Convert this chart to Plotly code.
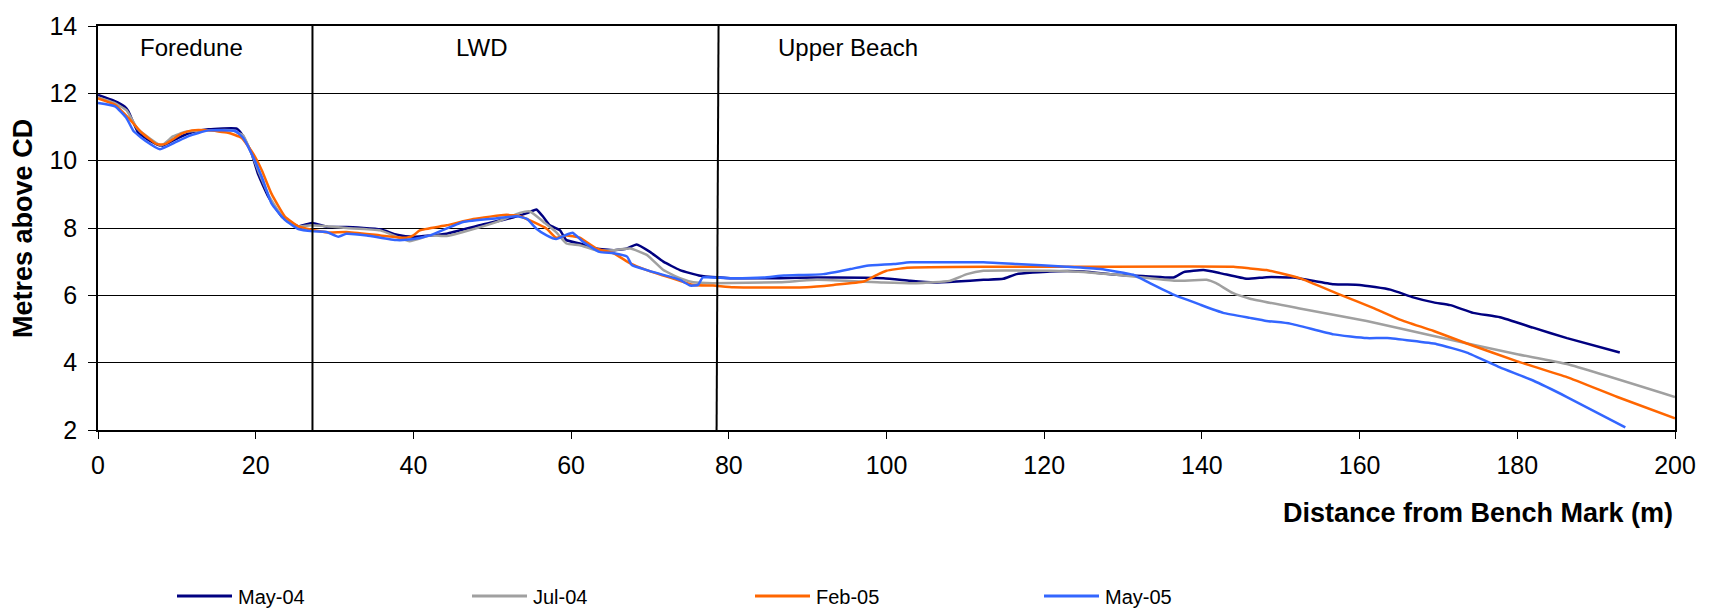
import plotly.graph_objects as go

# ---- data ----
may04_x = [0, 2.0, 3.4, 3.86, 5.1, 6.5, 8.07, 10.2, 12.0, 14.0, 17.6, 18.4, 19.5, 20.3, 21.6, 23.3, 25.4, 27.1, 29.2, 31.5,
           35.8, 37.9, 40.0, 44.2, 48.4, 52.7, 54.4, 55.6, 56.5, 57.3, 58.6, 59.4, 61.1, 63.2, 65.4, 67.1, 68.3, 70.0,
           71.7, 73.8, 76.4, 80.2, 86.5, 91.2, 99.6, 103.0, 106.0, 108.9, 112.3, 114.8, 116.5, 120.7, 125.0, 129.2,
           133.4, 136.4, 137.7, 140.2, 142.3, 145.7, 148.2, 151.6, 156.7, 160.0, 163.9, 166.8, 169.4, 171.5, 174.4,
           177.8, 182.0, 186.3, 193.0]
may04_y = [11.95, 11.78, 11.6, 11.46, 10.83, 10.6, 10.44, 10.68, 10.85, 10.93, 10.95, 10.73, 10.2, 9.6, 8.93, 8.34, 8.05, 8.15, 8.03, 8.03,
           7.96, 7.8, 7.74, 7.83, 8.08, 8.32, 8.44, 8.55, 8.32, 8.08, 7.93, 7.64, 7.54, 7.39, 7.34, 7.39, 7.51, 7.29,
           7.0, 6.75, 6.58, 6.51, 6.51, 6.53, 6.51, 6.43, 6.38, 6.41, 6.46, 6.49, 6.63, 6.71, 6.71, 6.61,
           6.56, 6.53, 6.69, 6.75, 6.66, 6.49, 6.54, 6.53, 6.33, 6.31, 6.17, 5.94, 5.79, 5.71, 5.48,
           5.35, 5.04, 4.73, 4.30]

jul04_x = [0, 2.0, 3.6, 5.0, 8.0, 9.5, 11.0, 14.0, 17.0, 18.4, 19.5, 20.5, 21.8, 23.5, 25.4, 27.1, 31.5, 35.8, 39.5,
           42.1, 44.2, 46.3, 50.6, 53.5, 54.8, 56.5, 58.1, 59.4, 61.1, 63.2, 65.4, 67.5, 69.6, 71.7, 73.8, 75.5, 78.0,
           86.5, 91.2, 99.6, 103.8, 108.0, 110.2, 112.3, 120.7, 125.0, 129.2, 133.4, 136.8, 140.6, 141.8, 143.9,
           146.1, 152.4, 160.9, 169.4, 180.0, 186.3, 200.0]
jul04_y = [11.88, 11.72, 11.5, 10.95, 10.45, 10.72, 10.85, 10.9, 10.9, 10.75, 10.2, 9.6, 8.9, 8.3, 8.05, 8.08, 8.0, 7.93, 7.61,
           7.78, 7.76, 7.88, 8.18, 8.45, 8.49, 8.18, 7.88, 7.54, 7.49, 7.34, 7.34, 7.39, 7.2, 6.75, 6.51, 6.39, 6.36,
           6.39, 6.46, 6.38, 6.36, 6.43, 6.63, 6.73, 6.73, 6.69, 6.61, 6.51, 6.43, 6.46, 6.36, 6.07,
           5.9, 5.61, 5.24, 4.79, 4.25, 3.96, 2.98]

feb05_x = [0, 2.16, 3.86, 5.55, 7.45, 8.5, 10.6, 11.9, 14.0, 16.5, 18.2, 19.7, 20.8, 22.0, 23.7, 25.4, 27.1, 29.2,
           31.5, 35.8, 39.1, 40.0, 40.8, 44.2, 47.6, 51.8, 53.5, 55.2, 56.9, 58.1, 59.4, 61.1, 63.2, 65.4, 67.5,
           69.6, 71.7, 73.8, 75.5, 78.0, 80.6, 89.9, 93.3, 97.1, 98.8, 100.0, 102.6, 112.3, 125.0, 144.0, 146.1,
           148.2, 152.4, 157.5, 161.7, 165.1, 169.4, 173.6, 180.0, 186.3, 192.7, 200.0]
feb05_y = [11.85, 11.66, 11.27, 10.83, 10.49, 10.49, 10.8, 10.9, 10.9, 10.83, 10.68, 10.2, 9.7, 9.02, 8.34, 8.05, 7.95, 7.87,
           7.88, 7.78, 7.71, 7.78, 7.93, 8.08, 8.27, 8.39, 8.35, 8.18, 7.98, 7.71, 7.78, 7.71, 7.39, 7.25, 6.95,
           6.75, 6.59, 6.43, 6.31, 6.29, 6.24, 6.24, 6.31, 6.41, 6.61, 6.73, 6.82, 6.85, 6.85, 6.85, 6.80,
           6.75, 6.51, 6.02, 5.63, 5.28, 4.94, 4.57, 4.04, 3.57, 2.98, 2.35]

may05_x = [0, 2.16, 3.6, 4.5, 6.0, 7.86, 9.77, 11.5, 14.0, 17.4, 18.4, 19.5, 20.8, 22.0, 23.7, 25.4, 27.3, 29.0,
           30.5, 31.5, 34.1, 37.9, 40.0, 42.1, 46.3, 50.6, 53.1, 54.4, 55.6, 56.9, 58.1, 59.4, 60.2, 61.5, 63.6,
           65.4, 67.1, 67.7, 69.6, 73.8, 75.1, 76.1, 76.7, 80.2, 84.4, 87.0, 92.0, 95.4, 97.5, 100.9, 103.0, 112.3,
           116.5, 122.8, 127.1, 131.3, 133.4, 136.4, 139.7, 142.7, 146.1, 148.2, 151.2, 156.7, 160.9, 163.5, 169.8,
           173.6, 177.8, 182.0, 186.3, 193.7]
may05_y = [11.71, 11.61, 11.27, 10.88, 10.59, 10.34, 10.54, 10.73, 10.9, 10.88, 10.68, 10.2, 9.5, 8.73, 8.24, 7.97, 7.9, 7.88,
           7.74, 7.83, 7.78, 7.64, 7.67, 7.78, 8.18, 8.29, 8.35, 8.27, 7.98, 7.78, 7.67, 7.8, 7.86, 7.59, 7.29,
           7.25, 7.15, 6.9, 6.75, 6.46, 6.29, 6.31, 6.53, 6.51, 6.53, 6.59, 6.63, 6.78, 6.88, 6.93, 6.98, 6.98,
           6.93, 6.85, 6.78, 6.61, 6.36, 6.02, 5.73, 5.48, 5.33, 5.24, 5.16, 4.84, 4.73, 4.73, 4.55,
           4.30, 3.86, 3.47, 2.98, 2.08]

series_names = ["May-04", "Jul-04", "Feb-05", "May-05"]
series_colors = ["#000080", "#A0A0A0", "#FF6600", "#3366FF"]
series_x = [may04_x, jul04_x, feb05_x, may05_x]
series_y = [may04_y, jul04_y, feb05_y, may05_y]

zone_labels = ["Foredune", "LWD", "Upper Beach"]
zone_label_x = [5.1, 45.1, 86.0]
zone_boundaries = [27.2, 78.5]

x_ticks = [0, 20, 40, 60, 80, 100, 120, 140, 160, 180, 200]
y_ticks = [2, 4, 6, 8, 10, 12, 14]

FONT = "Liberation Sans, Arial, sans-serif"

# plot-area geometry (pixels) used to place the legend in paper coordinates
L, R, T, B = 98, 40, 21, 185
W, H = 1715, 615
PW, PH = W - L - R, H - T - B


def px_x(p):
    return (p - L) / PW


def px_y(p):
    return (H - B - p) / PH


fig = go.Figure()
for name, col, xs, ys in zip(series_names, series_colors, series_x, series_y):
    fig.add_trace(go.Scatter(x=xs, y=ys, mode="lines", name=name, showlegend=False,
                             line=dict(color=col, width=2.5, shape="spline", smoothing=0.4)))

# zone boundary lines
fig.add_shape(type="line", x0=zone_boundaries[0], x1=zone_boundaries[0], y0=2, y1=14,
              xref="x", yref="y", line=dict(color="black", width=2))
fig.add_shape(type="line", x0=zone_boundaries[1] - 0.05, x1=zone_boundaries[1] + 0.2, y0=2, y1=14,
              xref="x", yref="y", line=dict(color="black", width=2))

for lab, lx in zip(zone_labels, zone_label_x):
    fig.add_annotation(x=lx, y=13.36, xref="x", yref="y", text=lab, showarrow=False,
                       xanchor="left", yanchor="middle", font=dict(family=FONT, size=24, color="black"))

fig.add_annotation(x=1, y=-0.205, xref="paper", yref="paper", text="<b>Distance from Bench Mark (m)</b>",
                   showarrow=False, xanchor="right", yanchor="middle",
                   font=dict(family=FONT, size=27, color="black"))
fig.add_annotation(x=-0.0476, y=0.5, xref="paper", yref="paper", text="<b>Metres above CD</b>",
                   showarrow=False, xanchor="center", yanchor="middle", textangle=-90,
                   font=dict(family=FONT, size=27, color="black"))

# legend (drawn below the plot)
legend_starts = [177, 472, 755, 1044]
legend_y = 598
for name, col, sx in zip(series_names, series_colors, legend_starts):
    fig.add_shape(type="line", xref="paper", yref="paper",
                  x0=px_x(sx), x1=px_x(sx + 55), y0=px_y(legend_y), y1=px_y(legend_y),
                  line=dict(color=col, width=3))
    fig.add_annotation(x=px_x(sx + 59), y=px_y(legend_y + 1), xref="paper", yref="paper", text=name,
                       showarrow=False, xanchor="left", yanchor="middle",
                       font=dict(family=FONT, size=20, color="black"))

fig.update_layout(
    width=W, height=H,
    margin=dict(l=L, r=R, t=T, b=B),
    paper_bgcolor="white", plot_bgcolor="white",
    font=dict(family=FONT, color="black"),
    showlegend=False,
    xaxis=dict(range=[0, 200], tickvals=x_ticks, ticks="outside", ticklen=7, tickcolor="black",
               showline=True, linecolor="black", linewidth=1.5, mirror=True, showgrid=False, zeroline=False,
               ticklabelstandoff=5,
               tickfont=dict(family=FONT, size=25, color="black")),
    yaxis=dict(range=[2, 14], tickvals=y_ticks, ticks="outside", ticklen=8, tickcolor="black",
               showline=True, linecolor="black", linewidth=1.5, mirror=True,
               showgrid=True, gridcolor="black", gridwidth=1.3, zeroline=False,
               ticklabelstandoff=6,
               tickfont=dict(family=FONT, size=25, color="black")),
)

fig.write_html("out.html")
